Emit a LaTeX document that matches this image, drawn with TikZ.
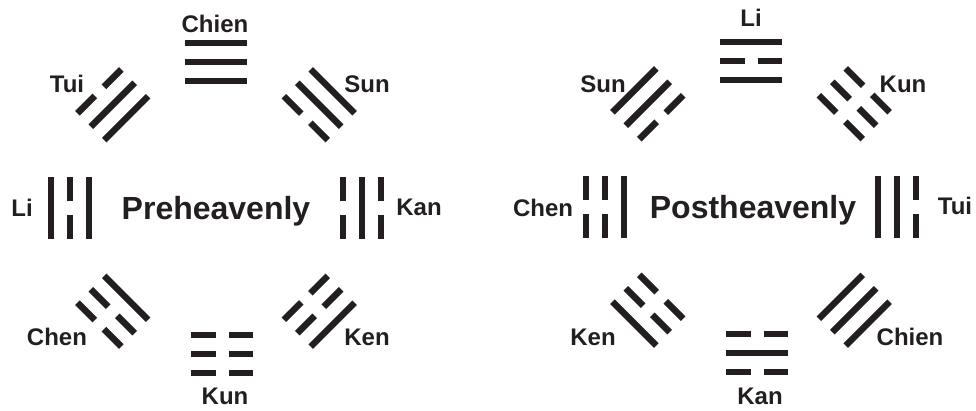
\documentclass[tikz,border=0pt]{standalone}
\usepackage{fontspec}
\setsansfont{Liberation Sans}
\usetikzlibrary{calc}
\definecolor{inkBlack}{HTML}{231F20}

%% one trigram: #1 centre, #2 rotation, #3-#5 lines from inner to outer (1 = solid, 0 = broken)
\newcommand{\trigram}[5]{%
  \begin{scope}[shift={#1}, rotate=#2]
    \foreach \bit [count=\i from -1] in {#3,#4,#5}{
      \ifnum\bit=1
        \draw[yao] (-31,\i*19) -- (31,\i*19);
      \else
        \draw[yao] (-31,\i*19) -- (-6.5,\i*19);
        \draw[yao] (6.5,\i*19) -- (31,\i*19);
      \fi
    }
  \end{scope}}

\begin{document}
\begin{tikzpicture}[
  x=1pt, y=1pt,
  font=\sffamily\bfseries,
  %% Styles
  yao/.style={draw=inkBlack, line width=6.5pt, line cap=butt},
  gua/.style={text=inkBlack, font=\sffamily\bfseries\fontsize{24}{24}\selectfont, inner sep=0pt},
  title/.style={text=inkBlack, font=\sffamily\bfseries\fontsize{32}{32}\selectfont, inner sep=0pt, anchor=base},
]
\useasboundingbox (0,0) rectangle (976,410);

%% ── Centres ────────────────────────────────────────────────────────────────
\coordinate (pre)  at (216,202);
\coordinate (post) at (751,203);

%% ── Preheavenly trigrams ───────────────────────────────────────────────────
\foreach \ang/\dx/\a/\b/\c in {90/0/1/1/1, 135/0/1/1/0, 180/0/1/0/1, 225/0/1/0/0,
                               270/6/0/0/0, 315/0/0/0/1, 0/0/0/1/0, 45/0/0/1/1}
  \trigram{($(pre)+(\ang:146)+(\dx,0)$)}{\ang-90}{\a}{\b}{\c};

\node[title] (preTitle) at (216,191) {Preheavenly};

\node[gua] (preChien) at (215,386) {Chien};
\node[gua] (preTui)   at (67,326)  {Tui};
\node[gua] (preSun)   at (367,326) {Sun};
\node[gua] (preLi)    at (22,202)  {Li};
\node[gua] (preKan)   at (419,203) {Kan};
\node[gua] (preChen)  at (57,73)   {Chen};
\node[gua] (preKen)   at (367,73)  {Ken};
\node[gua] (preKun)   at (225,14)  {Kun};

%% ── Postheavenly trigrams ──────────────────────────────────────────────────
\foreach \ang/\dx/\a/\b/\c in {90/0/1/0/1, 45/0/0/0/0, 0/0/1/1/0, 315/0/1/1/1,
                               270/6/0/1/0, 225/0/0/0/1, 180/0/1/0/0, 135/0/0/1/1}
  \trigram{($(post)+(\ang:146)+(\dx,0)$)}{\ang-90}{\a}{\b}{\c};

\node[title] (postTitle) at (753,192) {Postheavenly};

\node[gua] (postLi)    at (751,392) {Li};
\node[gua] (postSun)   at (603,326) {Sun};
\node[gua] (postKun)   at (903,326) {Kun};
\node[gua] (postChen)  at (543,202) {Chen};
\node[gua] (postTui)   at (955,204) {Tui};
\node[gua] (postKen)   at (593,73)  {Ken};
\node[gua] (postChien) at (910,73)  {Chien};
\node[gua] (postKan)   at (760,14)  {Kan};

\end{tikzpicture}
\end{document}
